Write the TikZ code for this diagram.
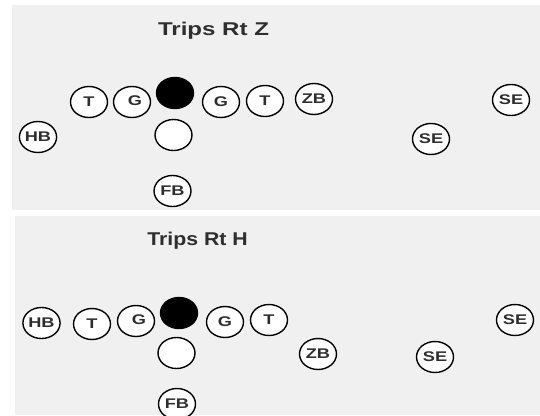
\documentclass[tikz,border=0pt]{standalone}
\usepackage{fontspec}
\setmainfont{Liberation Sans}
\newfontfamily\playerfont[FakeStretch=1.3]{Liberation Sans}
\newfontfamily\titlefontZ[FakeStretch=1.3]{Liberation Sans}
\newfontfamily\titlefontH[FakeStretch=1.15]{Liberation Sans}
\usetikzlibrary{shapes.geometric}
\definecolor{fieldgray}{HTML}{F0F0F0}
\definecolor{ink}{HTML}{2E2E2E}

\begin{document}
\begin{tikzpicture}[x=1pt,y=-1pt,
        player/.style={ellipse, draw=black, line width=1.4pt, fill=white,
            minimum width=37pt, minimum height=31pt, inner sep=0pt, text=ink,
            font=\playerfont\bfseries\fontsize{14}{14}\selectfont},
        snapper/.style={player, fill=black},
        playtitle/.style={anchor=base, text=ink, font=\bfseries\fontsize{18.5}{18.5}\selectfont}]
            \useasboundingbox (0,0) rectangle (540,415);
            % Trips Rt Z
            \begin{scope}
                \fill[fieldgray] (12,5) rectangle (540,210);
                \node[playtitle] (titleZ) at (213.5,35.7) {\titlefontZ Trips Rt Z};
                \node[player] (hbZ) at (38,137) {HB};
                \node[player] (ltZ) at (89,102) {T};
                \node[player] (lgZ) at (132,102) {\hspace*{6pt}\raisebox{2pt}{G}};
                \node[snapper] (cZ) at (175,93) {};
                \node[player] (rgZ) at (221,102) {G};
                \node[player] (rtZ) at (265,101) {T};
                \node[player] (zbZ) at (314,99) {ZB};
                \node[player] (seZ) at (511,100) {SE};
                \node[player] (qbZ) at (173.5,135) {};
                \node[player] (slotZ) at (431,139) {SE};
                \node[player] (fbZ) at (172.5,191) {FB};
            \end{scope}
            % Trips Rt H
            \begin{scope}
                \fill[fieldgray] (14.5,216) rectangle (540,415);
                \node[playtitle] (titleH) at (197.5,245) {\titlefontH Trips Rt H};
                \node[player] (hbH) at (41.5,323) {HB};
                \node[player] (ltH) at (92,324) {T};
                \node[player] (lgH) at (136,321) {\hspace*{6pt}\raisebox{2pt}{G}};
                \node[snapper] (cH) at (179,313) {};
                \node[player] (rgH) at (225,322) {G};
                \node[player] (rtH) at (269,320) {T};
                \node[player] (seH) at (515,320) {SE};
                \node[player] (qbH) at (176.5,353) {};
                \node[player] (zbH) at (318,354) {ZB};
                \node[player] (slotH) at (435,357) {SE};
                \node[player] (fbH) at (177,404) {FB};
            \end{scope}
        \end{tikzpicture}
\end{document}
